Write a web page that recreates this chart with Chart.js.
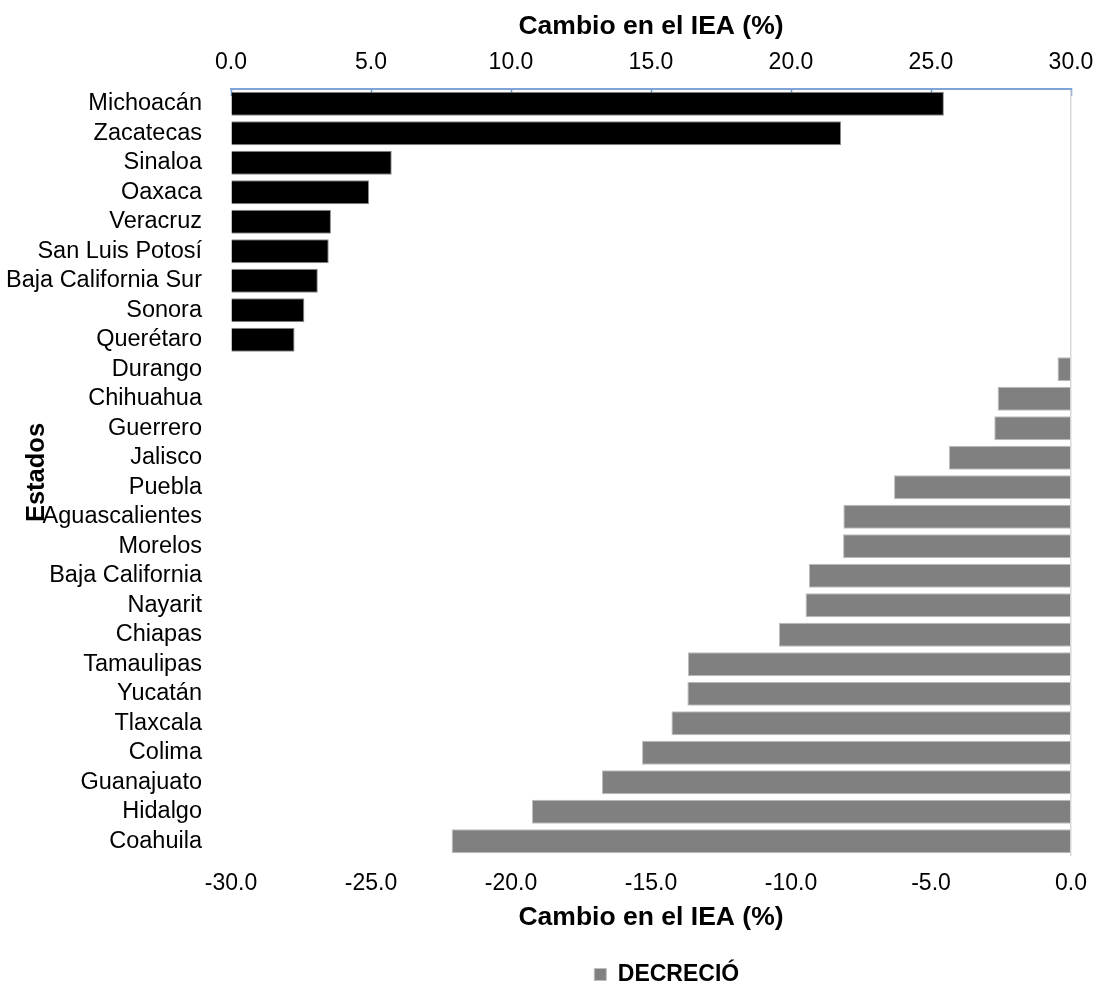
<!DOCTYPE html>
<html>
<head>
<meta charset="utf-8">
<script src="https://cdn.jsdelivr.net/npm/chart.js@4"></script>
<style>
  body { margin: 0; background: #fff; }
  #wrap { width: 1097px; height: 987px; }
</style>
</head>
<body>
<div id="wrap"><canvas id="chart-iea"></canvas></div>
<script>
const states = ['Michoacán', 'Zacatecas', 'Sinaloa', 'Oaxaca', 'Veracruz', 'San Luis Potosí',
  'Baja California Sur', 'Sonora', 'Querétaro', 'Durango', 'Chihuahua', 'Guerrero', 'Jalisco',
  'Puebla', 'Aguascalientes', 'Morelos', 'Baja California', 'Nayarit', 'Chiapas', 'Tamaulipas',
  'Yucatán', 'Tlaxcala', 'Colima', 'Guanajuato', 'Hidalgo', 'Coahuila'];

// black bars, read on the top axis (0 to 30)
const crecio = [25.46, 21.79, 5.74, 4.93, 3.57, 3.49, 3.10, 2.62, 2.27,
  null, null, null, null, null, null, null, null, null, null, null, null, null, null, null, null, null];

// gray bars, read on the bottom axis (-30 to 0)
const decrecio = [null, null, null, null, null, null, null, null, null,
  -0.48, -2.62, -2.74, -4.36, -6.32, -8.13, -8.14, -9.36, -9.48, -10.43, -13.68,
  -13.70, -14.27, -15.32, -16.75, -19.25, -22.12];

const axisTitle = 'Cambio en el IEA (%)';
const fontFamily = "'Liberation Sans', Arial, sans-serif";

const fmt = v => Number(v).toFixed(1);

// the CRECIÓ entry keeps its slot in the legend but is not shown, like the original
function legendLabels(chart) {
  const items = Chart.defaults.plugins.legend.labels.generateLabels(chart);
  items.forEach(it => {
    if (it.text === 'CRECIÓ') {
      it.text = '';
      it.fillStyle = 'rgba(0,0,0,0)';
      it.strokeStyle = 'rgba(0,0,0,0)';
      it.fontColor = 'rgba(0,0,0,0)';
    }
  });
  return items;
}

// end labels may hang over the edges; the layout padding leaves room for them
function noSidePadding(scale, h) {
  scale.height = h;
  scale.paddingLeft = 0;
  scale.paddingRight = 0;
}

const ctx = document.getElementById('chart-iea').getContext('2d');
new Chart(ctx, {
  type: 'bar',
  data: {
    labels: states,
    datasets: [{
      label: 'CRECIÓ',
      data: crecio,
      xAxisID: 'xTop',
      backgroundColor: '#000000',
      borderColor: '#8c8c8c',
      borderWidth: 1,
      barPercentage: 0.82,
      categoryPercentage: 1.0,
      grouped: false
    }, {
      label: 'DECRECIÓ',
      data: decrecio,
      xAxisID: 'xBottom',
      backgroundColor: '#808080',
      borderColor: '#bdbdbd',
      borderWidth: 1,
      barPercentage: 0.82,
      categoryPercentage: 1.0,
      grouped: false
    }]
  },
  options: {
    indexAxis: 'y',
    responsive: true,
    maintainAspectRatio: false,
    animation: false,
    layout: { padding: { top: 0, left: 0, right: 26, bottom: -9 } },
    plugins: {
      tooltip: { enabled: false },
      legend: {
        position: 'bottom',
        fullSize: false,
        onClick: null,
        labels: {
          generateLabels: legendLabels,
          boxWidth: 12,
          boxHeight: 12,
          padding: 8,
          color: '#000',
          font: { family: fontFamily, size: 23, weight: 'bold' }
        }
      }
    },
    scales: {
      y: {
        type: 'category',
        position: 'left',
        grid: { display: false },
        border: { display: false },
        ticks: {
          autoSkip: false,
          padding: 21,
          color: '#000',
          font: { family: fontFamily, size: 23.5 }
        },
        title: {
          display: true,
          text: 'Estados',
          color: '#000',
          padding: { top: 22, bottom: 0 },
          font: { family: fontFamily, size: 25.5, weight: 'bold' }
        },
        afterFit: scale => { scale.width = 231; }
      },
      xTop: {
        type: 'linear',
        position: 'top',
        min: 0,
        max: 30,
        ticks: {
          stepSize: 5,
          padding: 20,
          color: '#000',
          font: { family: fontFamily, size: 23 },
          callback: fmt
        },
        grid: {
          display: true,
          drawOnChartArea: false,
          drawTicks: true,
          tickLength: -7,
          tickColor: '#6f97cf',
          tickWidth: 1.5
        },
        border: { display: true, color: '#7fa3d6', width: 2 },
        title: {
          display: true,
          text: axisTitle,
          color: '#000',
          padding: { top: 11, bottom: 0 },
          font: { family: fontFamily, size: 26.5, weight: 'bold' }
        },
        afterFit: scale => noSidePadding(scale, 89)
      },
      xBottom: {
        type: 'linear',
        position: 'bottom',
        min: -30,
        max: 0,
        ticks: {
          stepSize: 5,
          padding: 14,
          color: '#000',
          font: { family: fontFamily, size: 23 },
          callback: fmt
        },
        grid: {
          display: true,
          drawOnChartArea: true,
          drawTicks: false,
          lineWidth: 1.5,
          color: c => (c.tick && c.tick.value === 0) ? '#d9d9d9' : 'rgba(0,0,0,0)'
        },
        border: { display: false },
        title: {
          display: true,
          text: axisTitle,
          color: '#000',
          padding: { top: 0, bottom: 21 },
          font: { family: fontFamily, size: 26.5, weight: 'bold' }
        },
        afterFit: scale => noSidePadding(scale, 99)
      }
    }
  }
});
</script>
</body>
</html>
